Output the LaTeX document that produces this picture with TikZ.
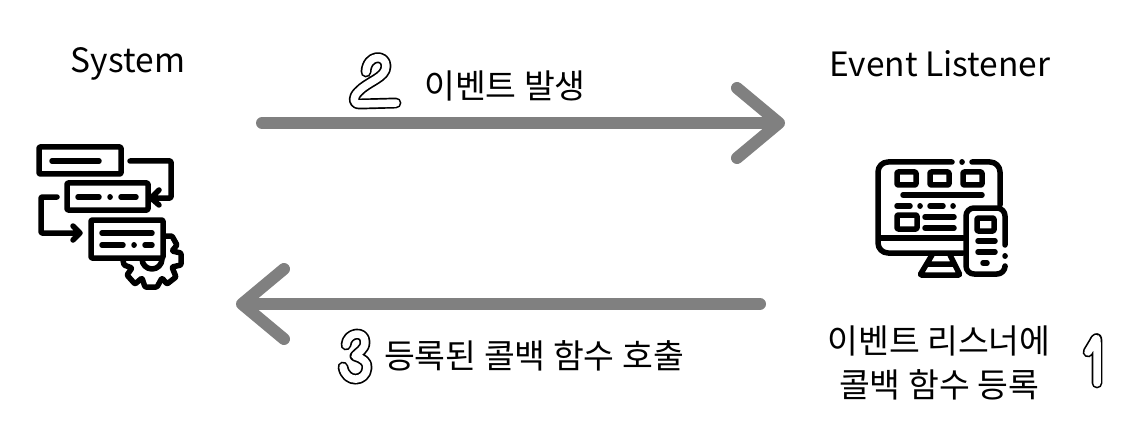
\documentclass[tikz,border=0pt]{standalone}
\usepackage{fontspec}
\setmainfont{Noto Sans CJK KR}
\usetikzlibrary{arrows.meta}
\tikzstyle{caption} = [align=center,font=\fontsize{33.5}{43.5}\selectfont,inner sep=0pt]
\tikzstyle{flow} = [draw=black!50,line width=12pt,line cap=round,-{Straight Barb[length=42pt,width=70pt,round]}]
\tikzstyle{icon} = [draw=black,line width=5.5pt,line cap=round,line join=round,rounded corners=1pt]
\tikzstyle{numeral} = [draw=black,line width=1.7pt,double=white,double distance=7.5pt,line cap=round,line join=round]
\begin{document}
\begin{tikzpicture}[x=1pt,y=-1pt]
	\useasboundingbox (0,0) rectangle (1133,433);
	\node (system) [caption] at (128,64) {System};
	\node (listener) [caption] at (940,64) {Event Listener};
	\node (occur) [caption] at (505,86) {이벤트 발생};
	\node (call) [caption] at (534,356) {등록된 콜백 함수 호출};
	\node (register) [caption] at (939,363) {이벤트 리스너에\\콜백 함수 등록};
	\coordinate (occurA) at (262,123);
	\coordinate (occurB) at (785,123);
	\coordinate (callA) at (760,304);
	\coordinate (callB) at (236,304);
	\draw [flow] (occurA) -- (occurB);
	\draw [flow] (callA) -- (callB);
	% numerals
	\draw [numeral] (396,103) -- (360,104) .. controls (352,104) and (353,97) .. (358,92) .. controls (368,81) and (386,78) .. (386,66) .. controls (386,54) and (367,54) .. (366,72);
	\draw [numeral] (346,345) .. controls (347,332) and (365,330) .. (365,342) .. controls (365,350) and (358,352) .. (355,356) .. controls (362,358) and (368,362) .. (367,368) .. controls (366,382) and (346,384) .. (343,367);
	\draw [numeral] (1088,352) -- (1094,342) .. controls (1097,336) and (1097,338) .. (1097,345) -- (1097,383);
	% system icon
	\draw [icon] (39,147) rectangle (121,174);
	\draw [icon] (67,183) rectangle (148,210);
	\draw [icon] (91,220) rectangle (163,258);
	\draw [icon] (52,161) -- (99,161);
	\draw [icon] (78,197) -- (99,197) (110,197) -- (110.1,197) (121,197) -- (136,197);
	\draw [icon] (102,233) -- (152,233) (102,245) -- (123,245) (134,245) -- (134.1,245) (145,245) -- (152,245);
	\draw [icon] (130,161) -- (171,161) -- (171,198) -- (152,198) (159,190) -- (151,198) -- (159,205);
	\draw [icon] (57,197) -- (41,197) -- (41,233) -- (80,233) (73,226) -- (80,233) -- (73,240);
	\draw [icon] (165,236) -- (172,236) -- (177,245) -- (172,251) -- (181,253) -- (181,265) -- (172,267) -- (176,277) -- (167,284) -- (162,278) -- (157,287) -- (145,287) -- (142,278) -- (135,284) -- (127,275) -- (132,268) -- (124,265) -- (123,260);
	\draw [icon] (142,259) arc [start angle=180,end angle=0,radius=10,y=-1pt];
	% listener icon
	\draw [icon,rounded corners=10pt] (952,162) -- (878,162) -- (878,253) -- (963,253);
	\draw [icon,rounded corners=10pt] (972,162) -- (1000,162) -- (1000,205);
	\draw [icon] (962,162) -- (962.1,162);
	\draw [icon] (880,238) -- (963,238);
	\draw [icon] (932,255) -- (920,275) -- (960,275) -- (950,255) (928,264) -- (953,264);
	\foreach \sx in {897,930,963}
		\draw [icon] (\sx,172) rectangle (\sx+19,185);
	\draw [icon] (903,195) -- (982,195);
	\draw [icon] (897,206) -- (910,206) (920,206) -- (920.1,206) (930,206) -- (943,206) (953,206) -- (953.1,206);
	\draw [icon] (897,215) rectangle (917,229);
	\draw [icon] (925,217) -- (954,217) (925,228) -- (954,228);
	\draw [icon,rounded corners=8pt] (1005,245) -- (1005,208) -- (966,208) -- (966,274) -- (1005,274) -- (1005,267);
	\draw [icon] (1005,256) -- (1005.1,256);
	\draw [icon] (977,218) rectangle (994,231);
	\draw [icon] (978,241) -- (995,241) (978,252) -- (995,252) (983,263) -- (987,263);
\end{tikzpicture}
\end{document}
